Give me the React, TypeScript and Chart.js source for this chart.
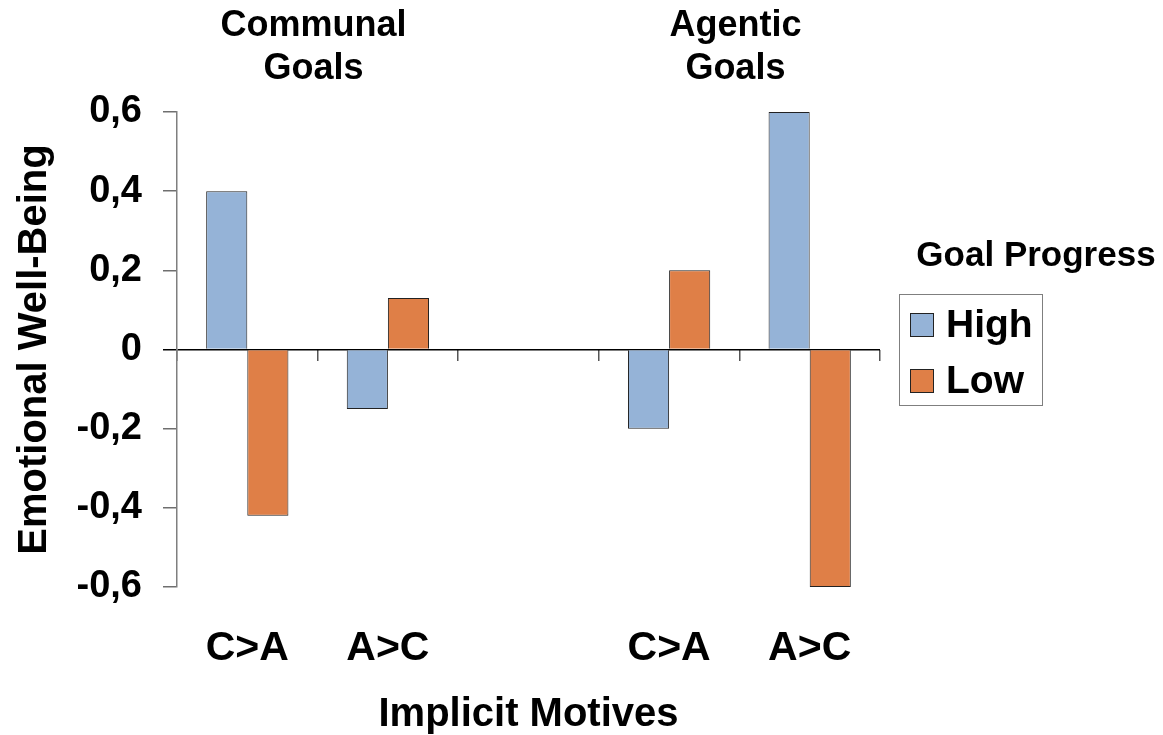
import React, { useEffect, useRef } from 'react';
import { Chart, registerables } from 'chart.js';

Chart.register(...registerables);

const categories = ['C>A', 'A>C', '', 'C>A', 'A>C'];
const highValues: (number | null)[] = [0.4, -0.15, null, -0.2, 0.6];
const lowValues: (number | null)[] = [-0.42, 0.13, null, 0.2, -0.6];
const seriesLabels = ['High', 'Low'];
const seriesColors = ['#95B3D7', '#DF7F47'];
const groupTitles = [['Communal', 'Goals'], ['Agentic', 'Goals']];
const groupCategoryIndices = [[0, 1], [3, 4]];
const legendTitle = 'Goal Progress';
const xTitle = 'Implicit Motives';
const yTitle = 'Emotional Well-Being';
const yMin = -0.6;
const yMax = 0.6;
const yStep = 0.2;

const FONT = "'Liberation Sans', Arial, Helvetica, sans-serif";

const W = 1163;
const H = 735;

const groupTitlePlugin = {
  id: 'groupTitles',
  afterDraw(chart: any) {
    const ctx = chart.ctx;
    const xs = chart.scales.x;
    ctx.save();
    ctx.fillStyle = '#000';
    ctx.font = `bold 36px ${FONT}`;
    ctx.textAlign = 'center';
    ctx.textBaseline = 'middle';
    groupTitles.forEach((lines, i) => {
      const [a, b] = groupCategoryIndices[i];
      const cx = (xs.getPixelForValue(a) + xs.getPixelForValue(b)) / 2 - 4;
      lines.forEach((t, j) => ctx.fillText(t, cx, 26 + j * 43));
    });
    ctx.restore();
  },
};

const customLegendPlugin = {
  id: 'customLegend',
  afterDraw(chart: any) {
    const ctx = chart.ctx;
    ctx.save();
    ctx.fillStyle = '#000';
    ctx.font = `bold 35px ${FONT}`;
    ctx.textAlign = 'center';
    ctx.textBaseline = 'middle';
    ctx.fillText(legendTitle, 1036, 256);
    ctx.strokeStyle = '#7f7f7f';
    ctx.lineWidth = 1;
    ctx.strokeRect(899.5, 294.5, 143, 111);
    chart.data.datasets.forEach((ds: any, i: number) => {
      const cy = 325 + i * 56;
      ctx.fillStyle = ds.backgroundColor;
      ctx.fillRect(910, cy - 12, 24, 24);
      ctx.strokeStyle = '#222';
      ctx.strokeRect(910.5, cy - 11.5, 23, 23);
      ctx.fillStyle = '#000';
      ctx.font = `bold 39px ${FONT}`;
      ctx.textAlign = 'left';
      ctx.fillText(ds.label, 946, cy + 1);
    });
    ctx.restore();
  },
};

export default function App() {
  const canvasRef = useRef<HTMLCanvasElement | null>(null);

  useEffect(() => {
    document.body.style.margin = '0';
    const canvas = canvasRef.current;
    if (!canvas) return;
    const chart = new Chart(canvas, {
      type: 'bar',
      data: {
        labels: categories,
        datasets: [
          {
            label: seriesLabels[0],
            data: highValues,
            backgroundColor: seriesColors[0],
            borderColor: '#222',
            borderWidth: 1,
            barPercentage: 1,
            categoryPercentage: 0.585,
            xAxisID: 'x',
          },
          {
            label: seriesLabels[1],
            data: lowValues,
            backgroundColor: seriesColors[1],
            borderColor: '#222',
            borderWidth: 1,
            barPercentage: 1,
            categoryPercentage: 0.585,
            xAxisID: 'x',
          },
        ],
      },
      options: {
        responsive: false,
        animation: false,
        maintainAspectRatio: false,
        layout: { padding: { top: 112, right: W - 880, left: 0, bottom: 0 } },
        plugins: {
          legend: { display: false },
          tooltip: { enabled: false },
        },
        scales: {
          x: {
            type: 'category',
            position: 'bottom',
            offset: true,
            grid: { display: false, drawTicks: false, offset: true },
            border: { display: false },
            ticks: {
              color: '#000',
              font: { family: FONT, size: 41, weight: 'bold' },
              padding: 37,
              maxRotation: 0,
              autoSkip: false,
            },
            title: {
              display: true,
              text: xTitle,
              color: '#000',
              font: { family: FONT, size: 40, weight: 'bold', lineHeight: 1.0 },
              padding: { top: 0, bottom: 0 },
            },
            afterFit(scale: any) {
              scale.height = H - 587;
            },
          },
          x2: {
            type: 'category',
            labels: categories,
            position: { y: 0 },
            offset: true,
            grid: {
              display: true,
              drawOnChartArea: false,
              drawTicks: true,
              tickLength: 11,
              offset: true,
              color: '#555',
              lineWidth: 1.5,
            },
            border: { display: false },
            ticks: { display: false },
          },
          y: {
            type: 'linear',
            min: yMin,
            max: yMax,
            ticks: {
              stepSize: yStep,
              color: '#000',
              padding: 21,
              font: { family: FONT, size: 38, weight: 'bold' },
              callback: (v: any) => {
                const r = Math.round(Number(v) * 10) / 10;
                if (r === 0) return '0';
                return r.toFixed(1).replace('.', ',');
              },
            },
            grid: {
              drawTicks: true,
              tickLength: 14,
              lineWidth: 1.5,
              color: (c: any) =>
                c.tick && Math.abs(c.tick.value) < 1e-9 ? '#000' : 'rgba(0,0,0,0)',
              tickColor: (c: any) =>
                c.tick && Math.abs(c.tick.value) < 1e-9 ? '#000' : '#6f6f6f',
            },
            border: { display: true, color: '#7f7f7f', width: 1.5 },
            title: {
              display: true,
              text: yTitle,
              color: '#000',
              font: { family: FONT, size: 40, weight: 'bold', lineHeight: 1.2 },
              padding: { top: 11, bottom: 0 },
            },
            afterFit(scale: any) {
              scale.width = 177;
            },
          },
        },
      } as any,
      plugins: [groupTitlePlugin, customLegendPlugin],
    });
    return () => chart.destroy();
  }, []);

  return (
    <div style={{ position: 'relative', width: W, height: H, background: '#fff' }}>
      <canvas ref={canvasRef} width={W} height={H} style={{ display: 'block' }} />
    </div>
  );
}
